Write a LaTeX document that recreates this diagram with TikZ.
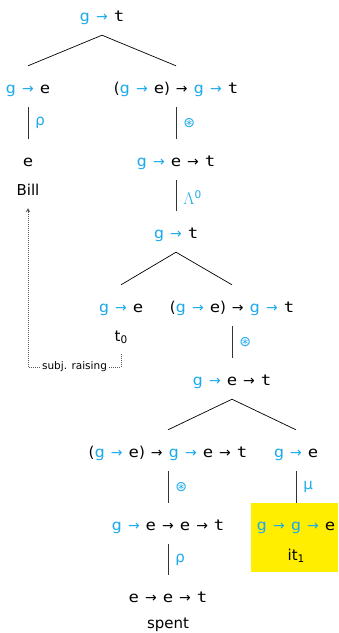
\documentclass[tikz,border=0pt]{standalone}
\usepackage{fontspec}
\setmainfont{DejaVu Sans}
\newfontfamily\tyfont[FakeStretch=1.15]{DejaVu Sans Mono}
\newfontfamily\symfont{DejaVu Sans}
\usetikzlibrary{arrows.meta}
\definecolor{cy}{RGB}{30,170,235}
\definecolor{yel}{RGB}{255,238,0}
\newcommand\ar{\hspace{6pt}{\fontsize{14}{16}\symfont →}\hspace{6pt}}
\newcommand\gA{\textcolor{cy}{g\ar}}
\newcommand\lp{{\symfont(}}
\newcommand\rp{{\symfont)}}
\newcommand\subx[1]{\raisebox{-0.35ex}{\fontsize{10.5}{12}\selectfont #1}}
\tikzset{
  ty/.style={font=\fontsize{15}{18}\tyfont, inner sep=0pt, text height=27pt, text depth=14pt, anchor=base},
  wd/.style={font=\fontsize{15}{18}\selectfont, inner sep=0pt, text depth=13pt, anchor=base},
  br/.style={line width=0.7pt, black},
  vl/.style={line width=0.9pt, black!80},
  lab/.style={anchor=west, inner xsep=7pt, inner ysep=0pt, text=cy, font=\fontsize{15}{18}\symfont},
  star/.style={lab, font=\fontsize{14}{16}\symfont},
  raise/.style={gray!70!black, line width=0.6pt, dash pattern=on 0.7pt off 1.3pt, -{Stealth[length=4pt,width=4.5pt]}}
}
\begin{document}
\begin{tikzpicture}[x=1pt,y=-1pt]
\useasboundingbox (0,0) rectangle (338,633);
\fill[yel] (251,503) rectangle (338,572);
% nodes
\node[ty] (r)  at (102,21)  {\gA t};
\node[ty] (n1) at (28,93)   {\gA e};
\node[ty] (n2) at (176,93)  {\lp\gA e\rp\ar\gA t};
\node[ty] (e1) at (28,166)  {e};
\node[wd] (bill) at (28,195) {Bill};
\node[ty] (n3) at (176,166) {\gA e\ar t};
\node[ty] (n4) at (176,238) {\gA t};
\node[ty] (n5) at (121,312) {\gA e};
\node[wd] (t0) at (121,341) {t\subx{0}};
\node[ty] (n6) at (232,312) {\lp\gA e\rp\ar\gA t};
\node[ty] (n7) at (232,385) {\gA e\ar t};
\node[ty] (n8) at (168,457) {\lp\gA e\rp\ar\gA e\ar t};
\node[ty] (n9) at (296,457) {\gA e};
\node[ty] (n10) at (168,530) {\gA e\ar e\ar t};
\node[ty] (n11) at (296,530) {\gA\gA e};
\node[wd] (it) at (296,560) {it\subx{1}};
\node[ty] (n12) at (168,602) {e\ar e\ar t};
\node[wd] (spent) at (168,628) {spent};
% branches
\draw[br] (r.south) -- (n1.north);
\draw[br] (r.south) -- (n2.north);
\draw[br] (n4.south) -- (n5.north);
\draw[br] (n4.south) -- (n6.north);
\draw[br] (n7.south) -- (n8.north);
\draw[br] (n7.south) -- (n9.north);
% unary
\draw[vl] (n1.south) -- node[lab]{ρ} (e1.north);
\draw[vl] (n2.south) -- node[star]{⊛} (n3.north);
\draw[vl] (n3.south) -- node[lab,yshift=-2pt,font=\fontsize{16}{18}\selectfont]{$\Lambda$\raisebox{6pt}{\fontsize{10.5}{12}\symfont 0}} (n4.north);
\draw[vl] (n6.south) -- node[star]{⊛} (n7.north);
\draw[vl] (n8.south) -- node[star]{⊛} (n10.north);
\draw[vl] (n9.south) -- node[lab]{μ} (n11.north);
\draw[vl] (n10.south) -- node[lab]{ρ} (n12.north);
% subject raising
\coordinate (rc) at (28,367);
\draw[raise] (t0.south) |- node[pos=0.75, fill=white, inner xsep=2.5pt, inner ysep=1pt, text=black, font=\fontsize{10.5}{12}\selectfont]{subj. raising} (rc) -- (bill.south);
\end{tikzpicture}
\end{document}
